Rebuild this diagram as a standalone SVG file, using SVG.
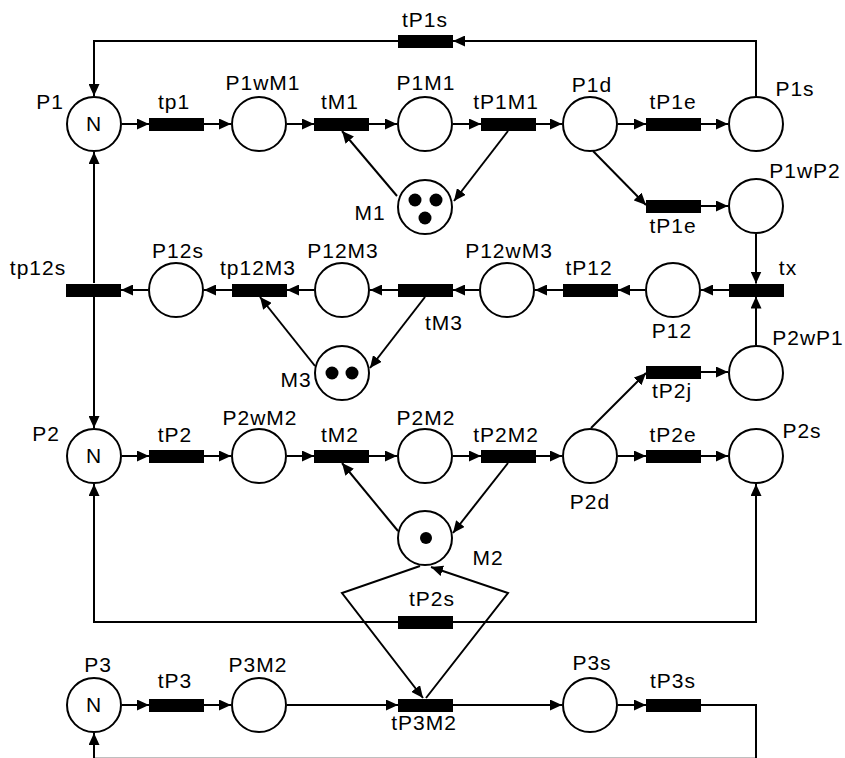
<svg xmlns="http://www.w3.org/2000/svg" width="845" height="758" viewBox="0 0 845 758">
<style>
.p{fill:#fff;stroke:#000;stroke-width:2}
.t{fill:#000}
.tok{fill:#000}
.c{fill:none;stroke:#000;stroke-width:2;marker-end:url(#a)}
text{font-family:"Liberation Sans",Arial,sans-serif;font-size:21px;text-anchor:middle;letter-spacing:1px;fill:#000}
</style>
<defs>
<marker id="a" markerUnits="userSpaceOnUse" viewBox="0 0 12 11" markerWidth="12" markerHeight="11" refX="12" refY="5.5" orient="auto"><path d="M0,0 L12,5.5 L0,11 z" fill="#000"/></marker>
</defs>
<rect width="845" height="758" fill="#fff"/>
<g id="connectors">
<path class="c" d="M122,124 H149"/>
<path class="c" d="M204,124 H231"/>
<path class="c" d="M287,124 H314"/>
<path class="c" d="M369,124 H397"/>
<path class="c" d="M453,124 H481"/>
<path class="c" d="M536,124 H562"/>
<path class="c" d="M618,124 H646"/>
<path class="c" d="M701,124 H728"/>
<path class="c" d="M756,96 V41 H453"/>
<path class="c" d="M398,41 H94 V96"/>
<path class="c" d="M397,196 L342,131"/>
<path class="c" d="M508,131 L454,201"/>
<path class="c" d="M593,151 L646,205"/>
<path class="c" d="M701,206 H728"/>
<path class="c" d="M756,234 V283.5"/>
<path class="c" d="M756,345 V296.5"/>
<path class="c" d="M729,290 H701"/>
<path class="c" d="M645,290 H618"/>
<path class="c" d="M563,290 H535"/>
<path class="c" d="M479,290 H453"/>
<path class="c" d="M398,290 H370"/>
<path class="c" d="M314,290 H287"/>
<path class="c" d="M232,290 H204"/>
<path class="c" d="M148,290 H121"/>
<path class="c" d="M94,283 V152"/>
<path class="c" d="M94,297 V428"/>
<path class="c" d="M425,297 L370,368"/>
<path class="c" d="M315,366 L260,297"/>
<path class="c" d="M591,428 L646,373"/>
<path class="c" d="M701,372 H728"/>
<path class="c" d="M122,456 H149"/>
<path class="c" d="M204,456 H231"/>
<path class="c" d="M287,456 H314"/>
<path class="c" d="M369,456 H397"/>
<path class="c" d="M453,456 H481"/>
<path class="c" d="M536,456 H562"/>
<path class="c" d="M618,456 H646"/>
<path class="c" d="M701,456 H728"/>
<path class="c" d="M398,531 L342,463"/>
<path class="c" d="M508,463 L453,533"/>
<path class="c" d="M398,622 H94 V484"/>
<path class="c" d="M453,622 H756 V484"/>
<path class="c" d="M420,566 L342,593 L423,698"/>
<path class="c" d="M426,698 L508,593 L431,567"/>
<path class="c" d="M122,705 H149"/>
<path class="c" d="M204,705 H231"/>
<path class="c" d="M287,705 H398"/>
<path class="c" d="M453,705 H562"/>
<path class="c" d="M618,705 H646"/>
<path class="c" d="M701,705 H756 V758.7 H94 V733"/>
</g>
<g id="P1"><circle class="p" cx="94" cy="124" r="27"/><text x="94" y="131">N</text><text x="50" y="109">P1</text></g>
<g id="P1wM1"><circle class="p" cx="259" cy="124" r="27"/><text x="263" y="90">P1wM1</text></g>
<g id="P1M1"><circle class="p" cx="425" cy="124" r="27"/><text x="426" y="90">P1M1</text></g>
<g id="P1d"><circle class="p" cx="590" cy="124" r="27"/><text x="592" y="92">P1d</text></g>
<g id="P1s"><circle class="p" cx="756" cy="124" r="27"/><text x="795" y="96">P1s</text></g>
<g id="P1wP2"><circle class="p" cx="756" cy="206" r="27"/><text x="805" y="178">P1wP2</text></g>
<g id="M1"><circle class="p" cx="425" cy="207" r="27"/><circle class="tok" cx="415" cy="200" r="6.5"/><circle class="tok" cx="436" cy="200" r="6.5"/><circle class="tok" cx="425" cy="218" r="6.5"/><text x="370" y="220">M1</text></g>
<g id="P12s"><circle class="p" cx="176" cy="290" r="27"/><text x="178" y="258">P12s</text></g>
<g id="P12M3"><circle class="p" cx="342" cy="290" r="27"/><text x="343" y="258">P12M3</text></g>
<g id="P12wM3"><circle class="p" cx="507" cy="290" r="27"/><text x="509" y="258">P12wM3</text></g>
<g id="P12"><circle class="p" cx="673" cy="290" r="27"/><text x="672" y="338">P12</text></g>
<g id="M3"><circle class="p" cx="342" cy="373" r="27"/><circle class="tok" cx="332" cy="373" r="6.5"/><circle class="tok" cx="352" cy="373" r="6.5"/><text x="296" y="387">M3</text></g>
<g id="P2wP1"><circle class="p" cx="756" cy="373" r="27"/><text x="808" y="345">P2wP1</text></g>
<g id="P2"><circle class="p" cx="94" cy="456" r="27"/><text x="94" y="463">N</text><text x="46" y="441">P2</text></g>
<g id="P2wM2"><circle class="p" cx="259" cy="456" r="27"/><text x="260" y="425">P2wM2</text></g>
<g id="P2M2"><circle class="p" cx="425" cy="456" r="27"/><text x="426" y="425">P2M2</text></g>
<g id="P2d"><circle class="p" cx="590" cy="456" r="27"/><text x="590" y="509">P2d</text></g>
<g id="P2s"><circle class="p" cx="756" cy="456" r="27"/><text x="802" y="438">P2s</text></g>
<g id="M2"><circle class="p" cx="425" cy="538" r="27"/><circle class="tok" cx="426" cy="538" r="6"/><text x="488" y="565">M2</text></g>
<g id="P3"><circle class="p" cx="94" cy="705" r="27"/><text x="94" y="712">N</text><text x="98" y="672">P3</text></g>
<g id="P3M2"><circle class="p" cx="259" cy="705" r="27"/><text x="258" y="672">P3M2</text></g>
<g id="P3s"><circle class="p" cx="590" cy="705" r="27"/><text x="592" y="670">P3s</text></g>
<g id="tp1"><rect class="t" x="149" y="118" width="55" height="13"/><text x="174" y="109">tp1</text></g>
<g id="tM1"><rect class="t" x="314" y="118" width="55" height="13"/><text x="340" y="109">tM1</text></g>
<g id="tP1M1"><rect class="t" x="481" y="118" width="55" height="13"/><text x="506" y="109">tP1M1</text></g>
<g id="tP1e"><rect class="t" x="646" y="118" width="55" height="13"/><text x="673" y="109">tP1e</text></g>
<g id="tP1s"><rect class="t" x="398" y="35" width="55" height="13"/><text x="425" y="27">tP1s</text></g>
<g id="tP1e2"><rect class="t" x="646" y="200" width="55" height="13"/><text x="673" y="233">tP1e</text></g>
<g id="tp12s"><rect class="t" x="66" y="284" width="55" height="13"/><text x="38" y="275">tp12s</text></g>
<g id="tp12M3"><rect class="t" x="232" y="284" width="55" height="13"/><text x="258" y="275">tp12M3</text></g>
<g id="tM3"><rect class="t" x="398" y="284" width="55" height="13"/><text x="444" y="330">tM3</text></g>
<g id="tP12"><rect class="t" x="563" y="284" width="55" height="13"/><text x="589" y="275">tP12</text></g>
<g id="tx"><rect class="t" x="729" y="284" width="55" height="13"/><text x="788" y="275">tx</text></g>
<g id="tP2j"><rect class="t" x="646" y="366" width="55" height="13"/><text x="672" y="398">tP2j</text></g>
<g id="tP2"><rect class="t" x="149" y="450" width="55" height="13"/><text x="175" y="442">tP2</text></g>
<g id="tM2"><rect class="t" x="314" y="450" width="55" height="13"/><text x="340" y="442">tM2</text></g>
<g id="tP2M2"><rect class="t" x="481" y="450" width="55" height="13"/><text x="506" y="442">tP2M2</text></g>
<g id="tP2e"><rect class="t" x="646" y="450" width="55" height="13"/><text x="673" y="442">tP2e</text></g>
<g id="tP2s"><rect class="t" x="398" y="616" width="55" height="13"/><text x="432" y="606">tP2s</text></g>
<g id="tP3"><rect class="t" x="149" y="699" width="55" height="13"/><text x="175" y="688">tP3</text></g>
<g id="tP3M2"><rect class="t" x="398" y="699" width="55" height="13"/><text x="424" y="730">tP3M2</text></g>
<g id="tP3s"><rect class="t" x="646" y="699" width="55" height="13"/><text x="673" y="688">tP3s</text></g>
</svg>
